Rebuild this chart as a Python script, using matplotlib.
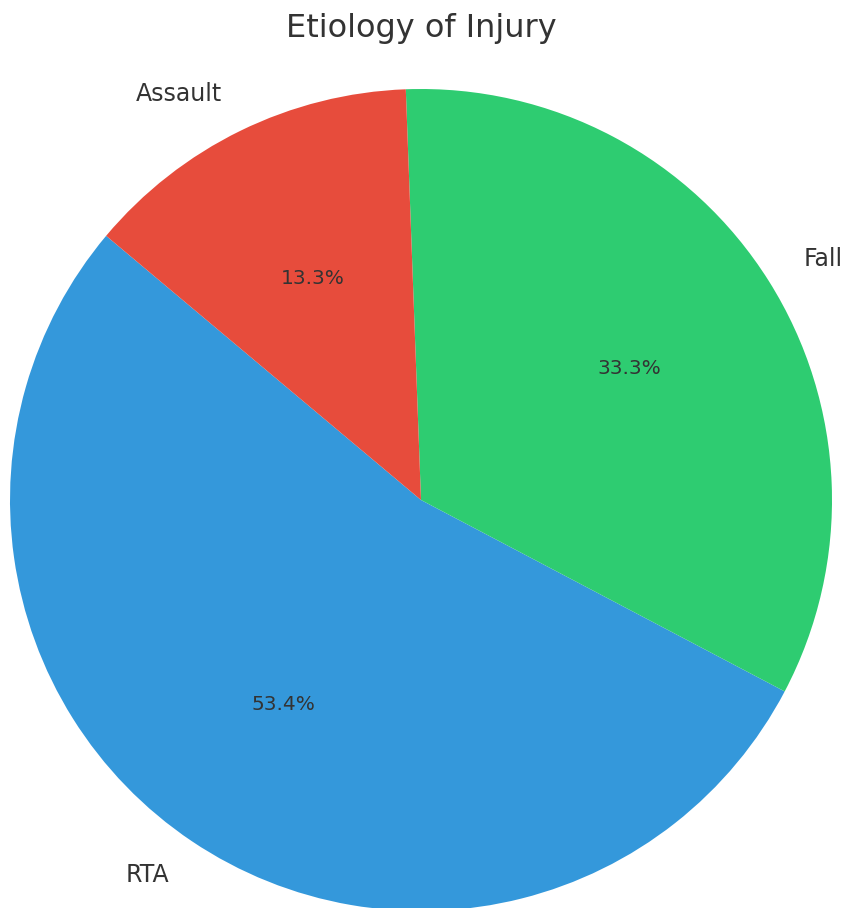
import matplotlib
matplotlib.use("Agg")
import matplotlib.pyplot as plt

categories = ["RTA", "Fall", "Assault"]
values = [53.4, 33.3, 13.3]
colors = ["#3498db", "#2ecc71", "#e74c3c"]
title = "Etiology of Injury"

W, H = 846, 908
fig = plt.figure(figsize=(W / 100, H / 100), dpi=100)
cx, cy, r = 421, 500, 411
ax = fig.add_axes([(cx - r) / W, (H - cy - r) / H, 2 * r / W, 2 * r / H])
wedges, texts, autotexts = ax.pie(
    values, labels=categories, colors=colors, autopct="%1.1f%%",
    startangle=140, labeldistance=1.1, pctdistance=0.6,
    textprops={"color": "#333333"})
for t in texts:
    t.set_fontsize(17)
for t in autotexts:
    t.set_fontsize(14.5)
ax.set_xlim(-1, 1)
ax.set_ylim(-1, 1)
ax.set_aspect("auto")
fig.text(cx / W, 1 - 28 / H, title, ha="center", va="center", fontsize=23, color="#333333")
fig.savefig("out.png", dpi=100)
